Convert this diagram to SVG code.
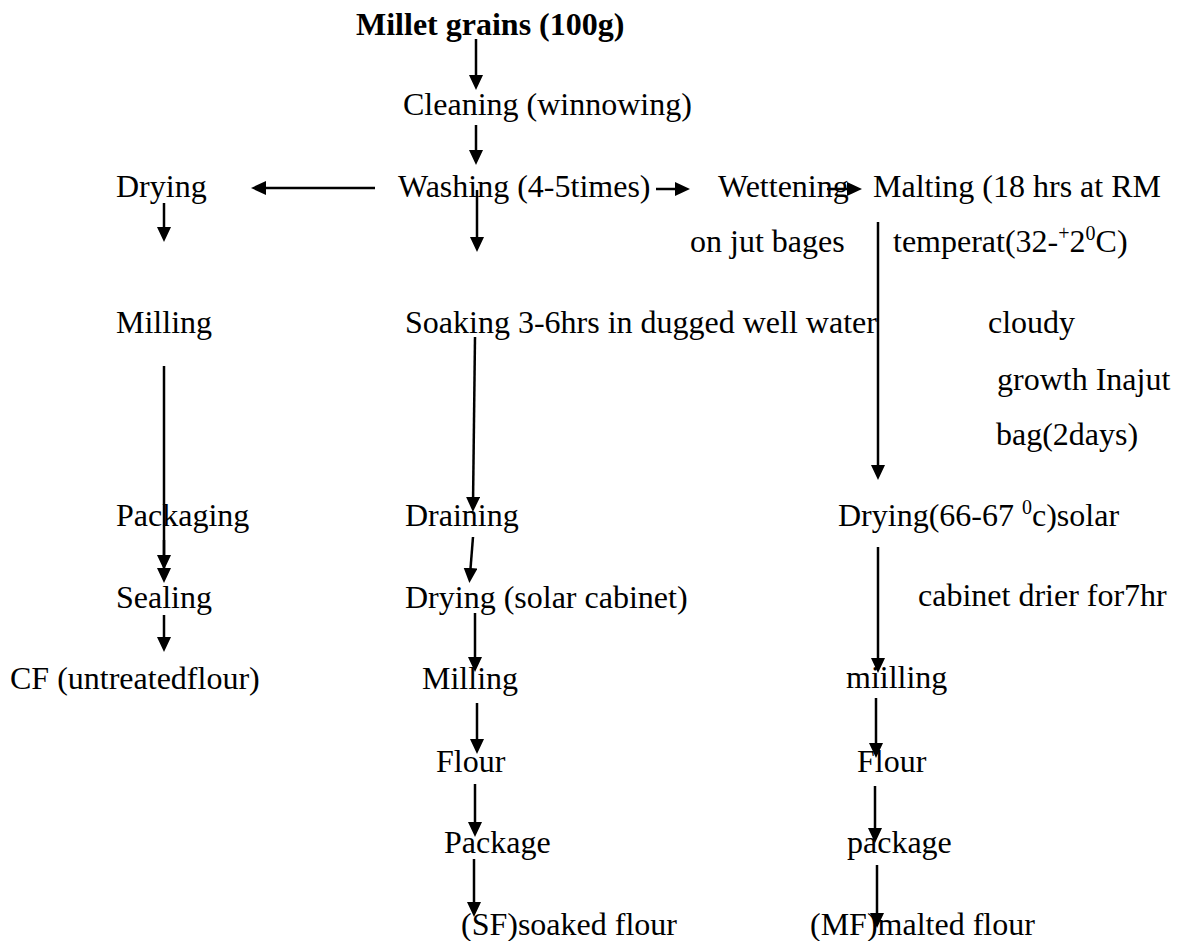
<svg xmlns="http://www.w3.org/2000/svg" width="1182" height="941" viewBox="0 0 1182 941">
<style>
text{font-family:"Liberation Serif","Times New Roman",serif;font-size:32px;fill:#000}
.b{font-weight:bold}
.sup{font-size:20px}
.c line{stroke:#000;stroke-width:2.5;marker-end:url(#ah)}
</style>
<defs>
<marker id="ah" viewBox="0 0 15 14" refX="7" refY="7" markerWidth="15" markerHeight="14" markerUnits="userSpaceOnUse" orient="auto">
<path d="M0,0 L15,7 L0,14 z" fill="#000"/>
</marker>
</defs>
<rect width="1182" height="941" fill="#fff"/>
<g id="n-millet"><text class="b" x="356" y="35">Millet grains (100g)</text></g>
<g id="n-cleaning"><text x="403" y="115">Cleaning (winnowing)</text></g>
<g id="n-washing"><text x="398" y="197">Washing (4-5times)</text></g>
<g id="n-wettening"><text x="718" y="197">Wettening</text><text x="690" y="252">on jut bages</text></g>
<g id="n-malting"><text x="873" y="197">Malting (18 hrs at RM</text><text x="893" y="252">temperat(32-<tspan class="sup" dy="-12">+</tspan><tspan dy="12">2</tspan><tspan class="sup" dy="-12">0</tspan><tspan dy="12">C)</tspan></text><text x="988" y="333">cloudy</text><text x="997" y="390">growth Inajut</text><text x="996" y="445">bag(2days)</text></g>
<g id="n-drying-l"><text x="116" y="197">Drying</text></g>
<g id="n-milling-l"><text x="116" y="333">Milling</text></g>
<g id="n-packaging-l"><text x="116" y="526">Packaging</text></g>
<g id="n-sealing-l"><text x="116" y="608">Sealing</text></g>
<g id="n-cf"><text x="10" y="689">CF (untreatedflour)</text></g>
<g id="n-soaking"><text x="405" y="333">Soaking 3-6hrs in dugged well water</text></g>
<g id="n-draining"><text x="405" y="526">Draining</text></g>
<g id="n-drying-m"><text x="405" y="608">Drying (solar cabinet)</text></g>
<g id="n-milling-m"><text x="422" y="689">Milling</text></g>
<g id="n-flour-m"><text x="436" y="772">Flour</text></g>
<g id="n-package-m"><text x="444" y="853">Package</text></g>
<g id="n-sf"><text x="461" y="935">(SF)soaked flour</text></g>
<g id="n-drying-r"><text x="838" y="526">Drying(66-67 <tspan class="sup" dy="-12">0</tspan><tspan dy="12">c)solar</tspan></text><text x="918" y="606">cabinet drier for7hr</text></g>
<g id="n-milling-r"><text x="846" y="688">miilling</text></g>
<g id="n-flour-r"><text x="857" y="772">Flour</text></g>
<g id="n-package-r"><text x="847" y="853">package</text></g>
<g id="n-mf"><text x="810" y="935">(MF)malted flour</text></g>
<g id="connectors" class="c">
<line x1="476" y1="39" x2="476" y2="82"/>
<line x1="476" y1="125" x2="476" y2="157"/>
<line x1="375" y1="188" x2="259" y2="188"/>
<line x1="656" y1="189" x2="682" y2="189"/>
<line x1="827" y1="189" x2="854" y2="189"/>
<line x1="164" y1="203" x2="164" y2="234"/>
<line x1="477" y1="190" x2="477" y2="244"/>
<line x1="878" y1="222" x2="878" y2="472"/>
<line x1="164" y1="366" x2="164" y2="562"/>
<line x1="164" y1="540" x2="164" y2="575"/>
<line x1="164" y1="615" x2="164" y2="644"/>
<line x1="475" y1="337" x2="473" y2="504"/>
<line x1="473" y1="537" x2="470" y2="575"/>
<line x1="475" y1="613" x2="475" y2="664"/>
<line x1="477" y1="703" x2="477" y2="746"/>
<line x1="475" y1="784" x2="475" y2="829"/>
<line x1="474" y1="859" x2="474" y2="909"/>
<line x1="878" y1="547" x2="878" y2="665"/>
<line x1="876" y1="698" x2="876" y2="750"/>
<line x1="875" y1="786" x2="875" y2="835"/>
<line x1="877" y1="865" x2="877" y2="920"/>
</g>
</svg>
